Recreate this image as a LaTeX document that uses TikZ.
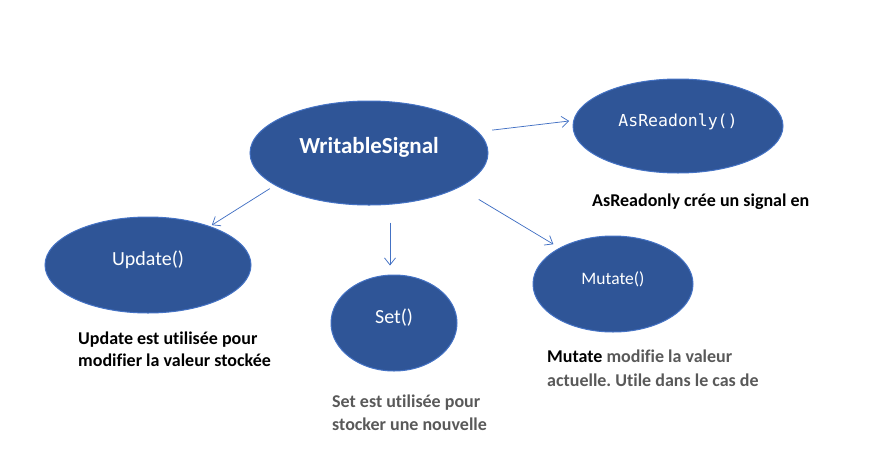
\documentclass[tikz,border=0pt]{standalone}
\usepackage{fontspec}
\setmainfont{Carlito}[Ligatures={NoCommon}]
\newfontfamily\codefont{DejaVu Sans Mono}
\usepackage{xcolor}
\usetikzlibrary{shapes.geometric,arrows.meta,positioning}
\definecolor{ovalfill}{HTML}{2F5597}
\definecolor{ovalline}{HTML}{4472C4}
\definecolor{notegray}{HTML}{595959}
\frenchspacing

\begin{document}
\begin{tikzpicture}[x=1pt, y=-1pt,
  oval/.style={ellipse, draw=ovalline, line width=1pt, fill=ovalfill, text=white, inner sep=0pt, text height=0.7em, text depth=0.7em},
  arr/.style={draw=ovalline, line width=0.75pt, -{Straight Barb[length=7pt,width=11pt]}},
  note/.style={anchor=north west, inner sep=0pt, align=left, font=\fontsize{18}{23}\selectfont\bfseries},
  ]
  \useasboundingbox (0,0) rectangle (887,456);
  \node[oval, minimum width=238pt, minimum height=104pt, font=\fontsize{23}{27}\selectfont\bfseries] (ws) at (369,153) {WritableSignal};
  \node[oval, minimum width=210pt, minimum height=94pt, font=\fontsize{16.5}{20}\selectfont\codefont] (ar) at (678,126) {AsReadonly()};
  \node[oval, minimum width=206pt, minimum height=96pt, font=\fontsize{20}{24}\selectfont] (upd) at (148,265) {Update()};
  \node[oval, minimum width=126pt, minimum height=96pt, font=\fontsize{20}{24}\selectfont] (set) at (394,323) {Set()};
  \node[oval, minimum width=160pt, minimum height=96pt, font=\fontsize{17.5}{21}\selectfont] (mut) at (613,284) {Mutate()};

  % connectors
  \coordinate (settop) at ([xshift=-4pt]set.north);
  \draw[arr, shorten <=14pt, shorten >=4pt] (ws.11) -- (ar.177);
  \draw[arr, shorten <=6pt, shorten >=2pt] (ws.199) -- (upd.32);
  \draw[arr, shorten <=17pt, shorten >=9pt] (ws.south -| settop) -- (settop);
  \draw[arr, shorten <=23pt, shorten >=7pt] (ws.-21) -- (mut.146);

  % captions
  \node[note] (ar-note) at (592,194) {AsReadonly crée un signal en};
  \node[note, font=\fontsize{18}{22}\selectfont\bfseries] (upd-note) at (78,332) {Update est utilisée pour\\modifier la valeur stockée};
  \node[note, text=notegray] (set-note) at (332,395) {Set est utilisée pour\\stocker une nouvelle};
  \node[note, text=notegray, font=\fontsize{18}{24}\selectfont\bfseries] (mut-note) at (547,350) {\textcolor{black}{Mutate} modifie la valeur\\actuelle. Utile dans le cas de};
\end{tikzpicture}
\end{document}
